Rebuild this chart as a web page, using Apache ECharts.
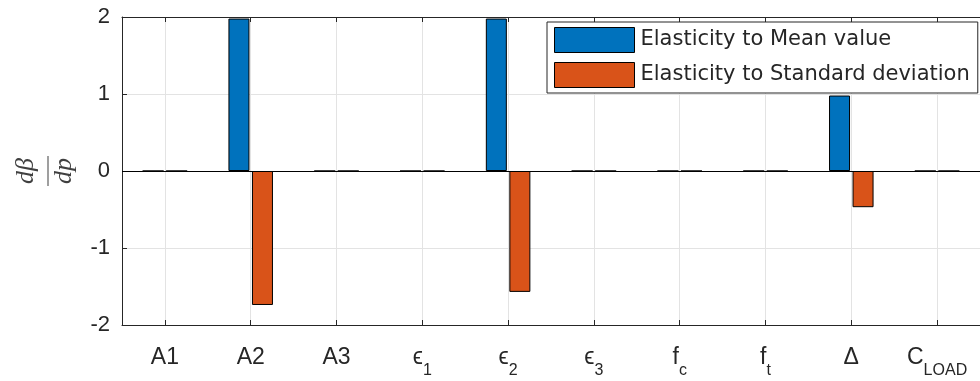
<!DOCTYPE html>
<html>
<head>
<meta charset="utf-8">
<script src="https://cdn.jsdelivr.net/npm/echarts@6/dist/echarts.min.js"></script>
<style>
html,body{margin:0;padding:0;background:#fff;}
#chart{width:980px;height:381px;}
</style>
</head>
<body>
<div id="chart"></div>
<script>
// Categories (text after "_" is a subscript)
const categories = ['A1', 'A2', 'A3', 'ϵ_1', 'ϵ_2', 'ϵ_3', 'f_c', 'f_t', 'Δ', 'C_LOAD'];
const seriesNames = ['Elasticity to Mean value', 'Elasticity to Standard deviation'];
const meanElasticity = [0, 1.98, 0, 0, 1.98, 0, 0, 0, 0.98, 0];
const stdElasticity = [0, -1.74, 0, 0, -1.57, 0, 0, 0, -0.47, 0];
const yTicks = [-2, -1, 0, 1, 2];

const AX = '#262626';
const FONT = '"Liberation Sans", Arial, sans-serif';
const LEG_FONT = '"DejaVu Sans", sans-serif';

function fmtCat(v) {
  const i = v.indexOf('_');
  if (i < 0) return '{b|' + v + '}';
  return '{b|' + v.slice(0, i) + '}{s|' + v.slice(i + 1) + '}';
}

const chart = echarts.init(document.getElementById('chart'), null, {renderer: 'canvas'});
chart.setOption({
  animation: false,
  backgroundColor: '#fff',
  grid: {left: 122, top: 17, right: -8, bottom: 56, containLabel: false},
  legend: {
    data: seriesNames,
    orient: 'vertical',
    left: 547,
    top: 22,
    padding: [5, 8, 5, 7],
    itemWidth: 80,
    itemHeight: 25,
    itemGap: 9,
    icon: 'rect',
    selectedMode: false,
    backgroundColor: '#fff',
    borderColor: AX,
    borderWidth: 1,
    itemStyle: {borderColor: '#000', borderWidth: 1},
    textStyle: {fontFamily: LEG_FONT, fontSize: 21, color: AX, padding: [0, 0, 0, 1]}
  },
  xAxis: [{
    type: 'category',
    data: categories,
    position: 'bottom',
    boundaryGap: true,
    axisLine: {show: true, onZero: false, lineStyle: {color: AX, width: 1}},
    axisTick: {show: true, inside: true, alignWithLabel: true, length: 5, lineStyle: {color: AX}},
    splitLine: {show: true, alignWithLabel: true, lineStyle: {color: '#e3e3e3', width: 1}},
    axisLabel: {
      interval: 0,
      margin: 12,
      formatter: fmtCat,
      rich: {
        b: {fontFamily: FONT, fontSize: 23, color: AX, lineHeight: 42},
        s: {fontFamily: FONT, fontSize: 16, color: AX, lineHeight: 16, padding: [26, 0, 0, 0]}
      }
    }
  }, {
    type: 'category',
    data: categories,
    position: 'top',
    boundaryGap: true,
    axisLine: {show: true, onZero: false, lineStyle: {color: AX, width: 1}},
    axisTick: {show: true, inside: true, alignWithLabel: true, length: 5, lineStyle: {color: AX}},
    axisLabel: {show: false},
    splitLine: {show: false}
  }],
  yAxis: {
    type: 'value',
    min: yTicks[0],
    max: yTicks[yTicks.length - 1],
    interval: 1,
    axisLine: {show: true, lineStyle: {color: AX, width: 1}},
    axisTick: {show: true, inside: true, length: 5, lineStyle: {color: AX}},
    splitLine: {show: true, lineStyle: {color: '#e3e3e3', width: 1}},
    axisLabel: {fontFamily: FONT, fontSize: 22, color: AX, margin: 12, padding: [4, 0, 0, 0]},
    name: '{t|dβ}\n{l|}\n{n|dp}',
    nameLocation: 'middle',
    nameRotate: 90,
    nameGap: 44,
    nameTextStyle: {
      rich: {
        t: {fontFamily: '"Liberation Serif", serif', fontStyle: 'italic', fontSize: 26, color: '#404040', lineHeight: 28, padding: [0, 0, 12, 0], align: 'center'},
        n: {fontFamily: '"Liberation Serif", serif', fontStyle: 'italic', fontSize: 26, color: '#404040', lineHeight: 28, align: 'center'},
        l: {width: 30, height: 1, backgroundColor: '#404040', lineHeight: 4, align: 'center'}
      }
    }
  },
  series: [{
    name: seriesNames[0],
    type: 'bar',
    data: meanElasticity,
    barWidth: 21,
    barGap: '12%',
    itemStyle: {color: '#0072BD', borderColor: '#000', borderWidth: 1},
    markLine: {
      silent: true,
      symbol: 'none',
      label: {show: false},
      lineStyle: {color: '#000', type: 'solid', width: 1},
      data: [{yAxis: 0}]
    }
  }, {
    name: seriesNames[1],
    type: 'bar',
    data: stdElasticity,
    barWidth: 21,
    barGap: '12%',
    itemStyle: {color: '#D95319', borderColor: '#000', borderWidth: 1}
  }]
});
</script>
</body>
</html>
